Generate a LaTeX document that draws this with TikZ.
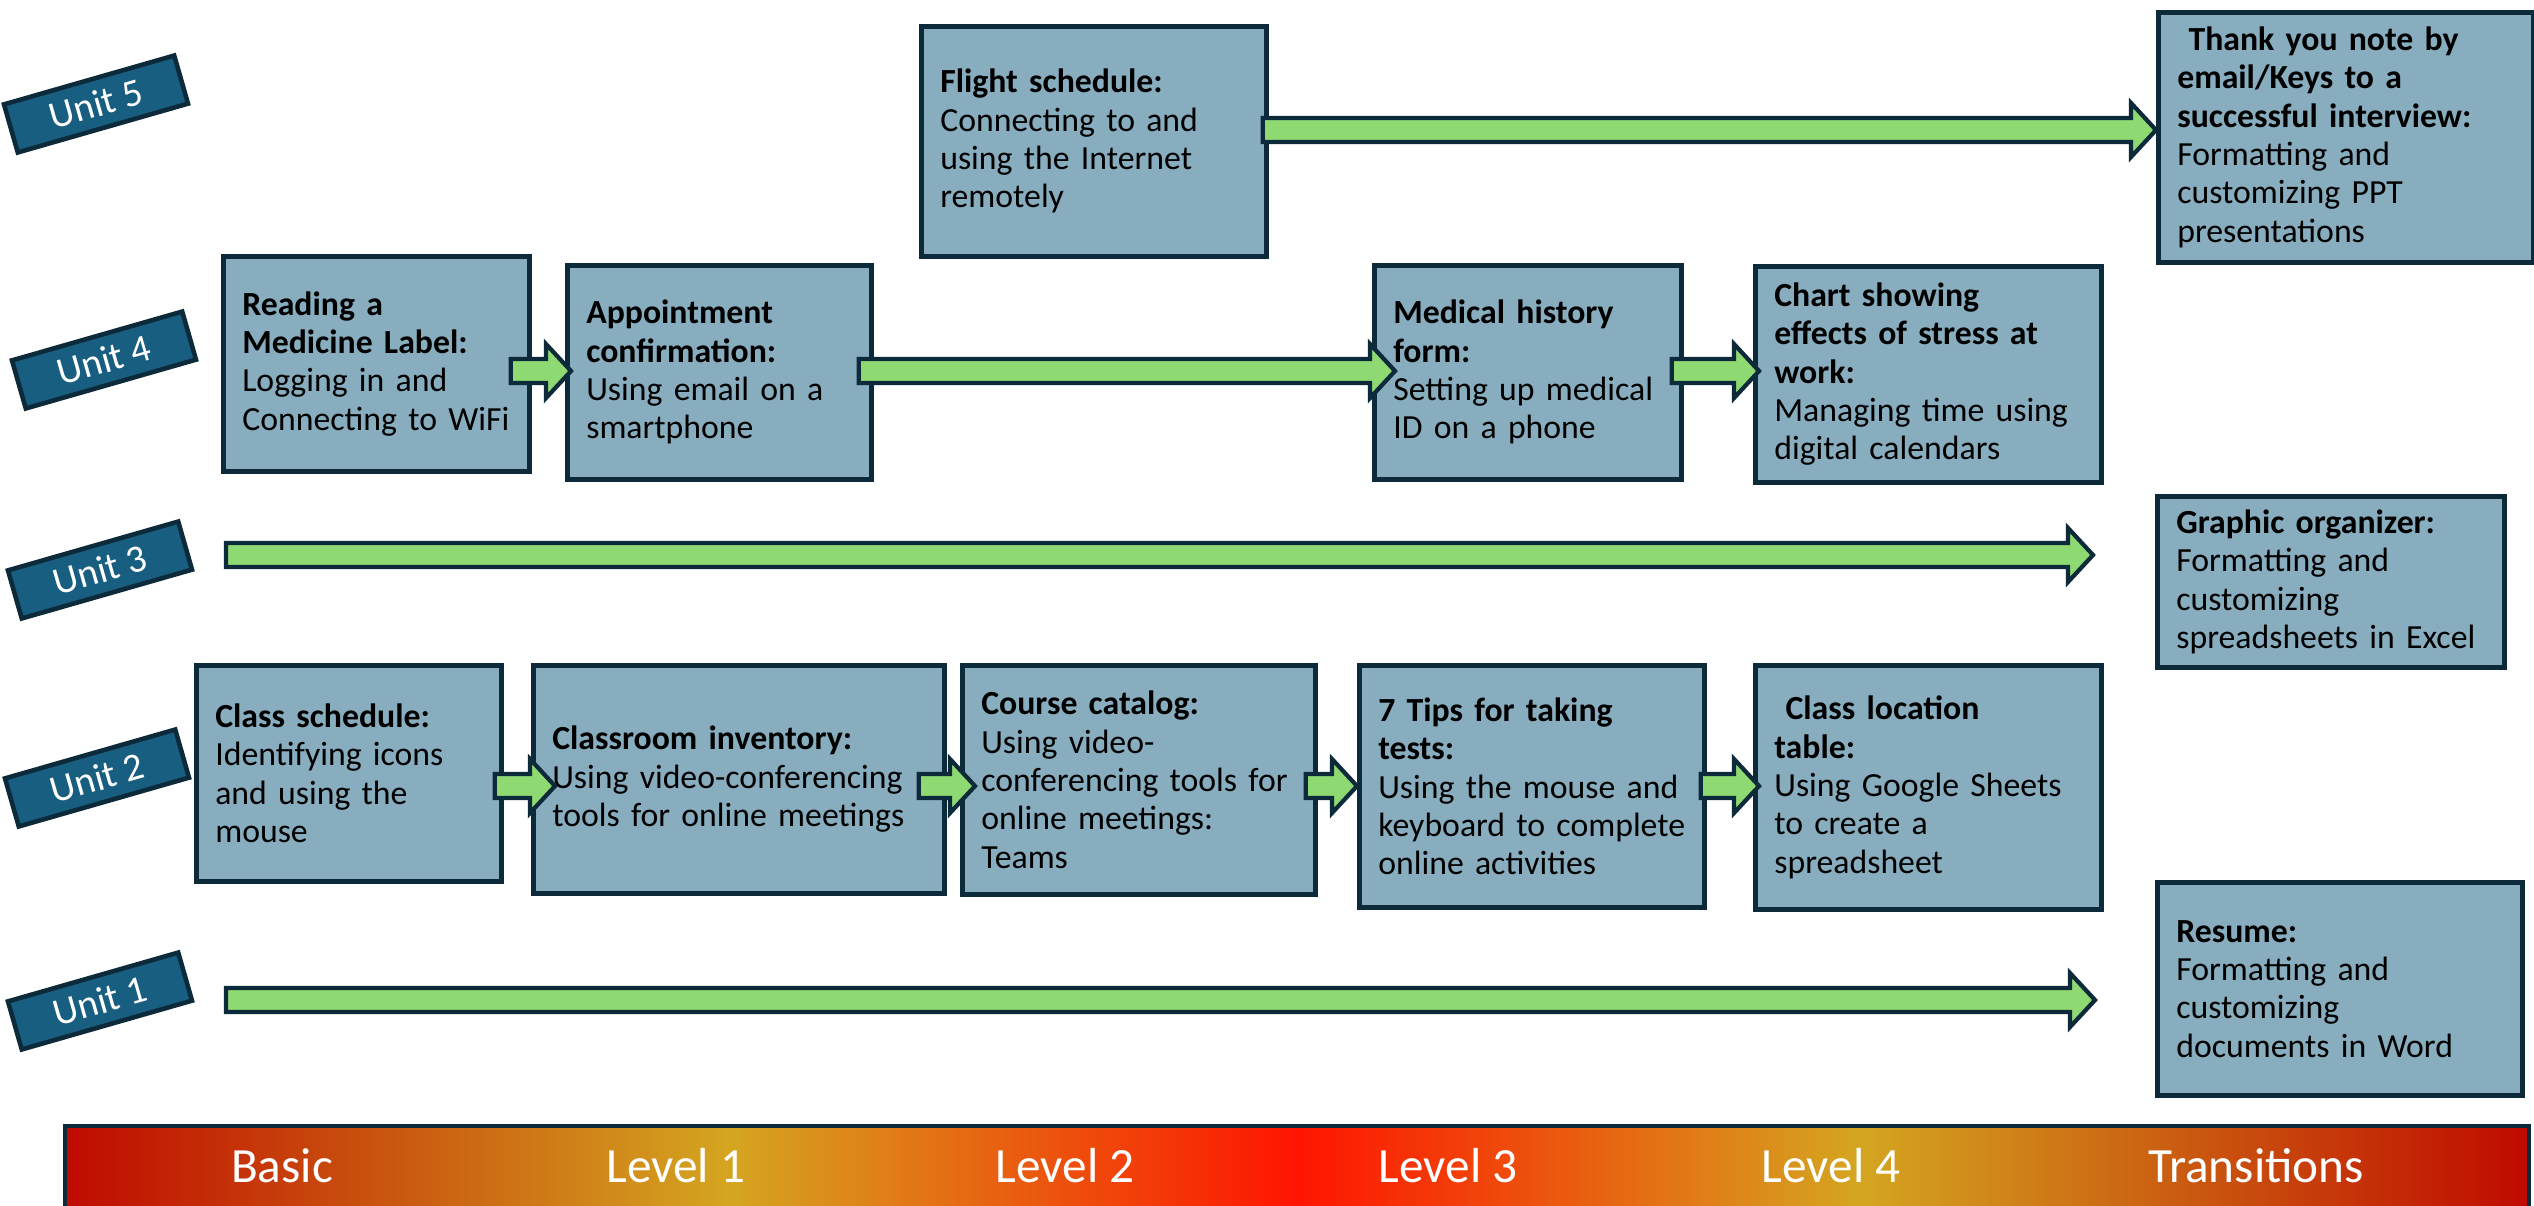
\documentclass[tikz,border=0pt]{standalone}
\usepackage{fontspec}
\setmainfont{Carlito}
\usetikzlibrary{calc}

\definecolor{edge}{RGB}{12,42,58}
\definecolor{cardfill}{RGB}{135,173,191}
\definecolor{unitblue}{RGB}{24,94,128}
\definecolor{flowgreen}{RGB}{143,217,115}
\definecolor{barred}{RGB}{192,10,0}
\definecolor{bargold}{RGB}{212,166,32}
\definecolor{barbright}{RGB}{255,20,0}

\pgfdeclarehorizontalshading{levelbar}{100bp}{color(0bp)=(barred); color(25bp)=(barred);
  color(38.5bp)=(bargold); color(50bp)=(barbright); color(61.4bp)=(bargold);
  color(75bp)=(barred); color(100bp)=(barred)}

\providecommand*{\pgfmathsetnewmacro}[2]{%
    \newcommand*{#1}{}% Error if already defined
    \pgfmathsetmacro{#1}{#2}%
}

% block arrow from tail point #1 to tip point #2 (same height)
\newcommand*{\flowarrow}[2]{%
    \draw[flow] ($(#1)+(0,\shaft)$) -- ($(#2)+(-\headlen,\shaft)$)
        -- ($(#2)+(-\headlen,\headw)$) -- (#2)
        -- ($(#2)+(-\headlen,-\headw)$) -- ($(#2)+(-\headlen,-\shaft)$)
        -- ($(#1)+(0,-\shaft)$) -- cycle;
}

\tikzset{
    card/.style = {draw=edge, fill=cardfill, line width=1.3pt, anchor=north west,
                   align=left, inner xsep=0.19cm, inner ysep=2pt,
                   font=\fontsize{9.6}{10.9}\selectfont},
    unitlabel/.style = {draw=edge, fill=unitblue, text=white, line width=1.3pt,
                        minimum width=1.77cm, minimum height=0.5cm, inner sep=0pt,
                        rotate=16, font=\fontsize{11}{13}\selectfont},
    flow/.style = {draw=edge, fill=flowgreen, line width=1.2pt},
    level/.style = {text=white, font=\fontsize{14}{16}\selectfont}
}

\begin{document}
\begin{tikzpicture}[x=0.01cm, y=-0.01cm]

\useasboundingbox[clip] (0,0) rectangle (2534,1205);

\pgfmathsetnewmacro{\shaft}{12}
\pgfmathsetnewmacro{\headw}{27}
\pgfmathsetnewmacro{\headlen}{25}

% unit labels
\node[unitlabel] (u5) at (96,104)  {Unit 5};
\node[unitlabel] (u4) at (104,360) {Unit 4};
\node[unitlabel] (u3) at (100,570) {Unit 3};
\node[unitlabel] (u2) at (97,778)  {Unit 2};
\node[unitlabel] (u1) at (100,1001) {Unit 1};

% lessons
\node[card, text width=3.07cm, minimum height=2.30cm] (flight) at (919,24)
    {\textbf{Flight schedule:}\\Connecting to and\\using the Internet\\remotely};
\node[card, text width=3.37cm, minimum height=2.50cm] (thanks) at (2156,10)
    {\textbf{\ Thank you note by}\\\textbf{email/Keys to a}\\\textbf{successful interview:}\\Formatting and\\customizing PPT\\presentations};

\node[card, text width=2.68cm, minimum height=2.15cm] (medicine) at (221,254)
    {\textbf{Reading a}\\\textbf{Medicine Label:}\\Logging in and\\Connecting to WiFi};
\node[card, text width=2.66cm, minimum height=2.14cm] (appoint) at (565,263)
    {\textbf{Appointment}\\\textbf{confirmation:}\\Using email on a\\smartphone};
\node[card, text width=2.69cm, minimum height=2.14cm] (medical) at (1372,263)
    {\textbf{Medical history}\\\textbf{form:}\\Setting up medical\\ID on a phone};
\node[card, text width=3.08cm, minimum height=2.16cm] (stress) at (1753,264)
    {\textbf{Chart showing}\\\textbf{effects of stress at}\\\textbf{work:}\\Managing time using\\digital calendars};

\node[card, text width=3.09cm, minimum height=1.71cm] (organizer) at (2155,494)
    {\textbf{Graphic organizer:}\\Formatting and\\customizing\\spreadsheets in Excel};

\node[card, text width=2.67cm, minimum height=2.16cm] (classsched) at (194,663)
    {\textbf{Class schedule:}\\Identifying icons\\and using the\\mouse};
\node[card, text width=3.73cm, minimum height=2.28cm] (inventory) at (531,663)
    {\textbf{Classroom inventory:}\\Using video-conferencing\\tools for online meetings};
\node[card, text width=3.15cm, minimum height=2.29cm] (catalog) at (960,663)
    {\textbf{Course catalog:}\\Using video-\\conferencing tools for\\online meetings:\\Teams};
\node[card, text width=3.07cm, minimum height=2.42cm] (tips) at (1357,663)
    {\textbf{7 Tips for taking}\\\textbf{tests:}\\Using the mouse and\\keyboard to complete\\online activities};
\node[card, text width=3.08cm, minimum height=2.44cm] (location) at (1753,663)
    {\textbf{\ Class location}\\\textbf{table:}\\Using Google Sheets\\to create a\\spreadsheet};

\node[card, text width=3.27cm, minimum height=2.13cm] (resume) at (2155,880)
    {\textbf{Resume:}\\Formatting and\\customizing\\documents in Word};

% rows of arrows
\coordinate (row5) at (0,130);
\coordinate (row4) at (0,371);
\coordinate (row3) at (226,555);
\coordinate (row2) at (0,786);
\coordinate (row1) at (226,1000);

\foreach \src/\dst/\row/\tl/\tp in {
        flight/thanks/row5/-6/0,
        medicine/appoint/row4/-21/6,
        appoint/medical/row4/-15/23,
        medical/stress/row4/-12/6,
        classsched/inventory/row2/-9/24,
        inventory/catalog/row2/-28/15,
        catalog/tips/row2/-12/0,
        tips/location/row2/-6/6}{
    \coordinate (tail) at ($(\src.east |- \row)+(\tl,0)$);
    \coordinate (tip) at ($(\dst.west |- \row)+(\tp,0)$);
    \flowarrow{tail}{tip}
    };

\coordinate (u3tip) at ($(organizer.west |- row3)+(-62,0)$);
\coordinate (u1tip) at ($(resume.west |- row1)+(-60,0)$);
\flowarrow{row3}{u3tip}
\flowarrow{row1}{u1tip}

% level bar
\shade[shading=levelbar, draw=edge, line width=1.3pt] (65,1126) rectangle (2529,1230);
\node[level] (basic) at (282,1166)  {Basic};
\node[level] (lvl1)  at (676,1166)  {Level 1};
\node[level] (lvl2)  at (1065,1166) {Level 2};
\node[level] (lvl3)  at (1448,1166) {Level 3};
\node[level] (lvl4)  at (1831,1166) {Level 4};
\node[level] (trans) at (2256,1166) {Transitions};

\end{tikzpicture}
\end{document}
